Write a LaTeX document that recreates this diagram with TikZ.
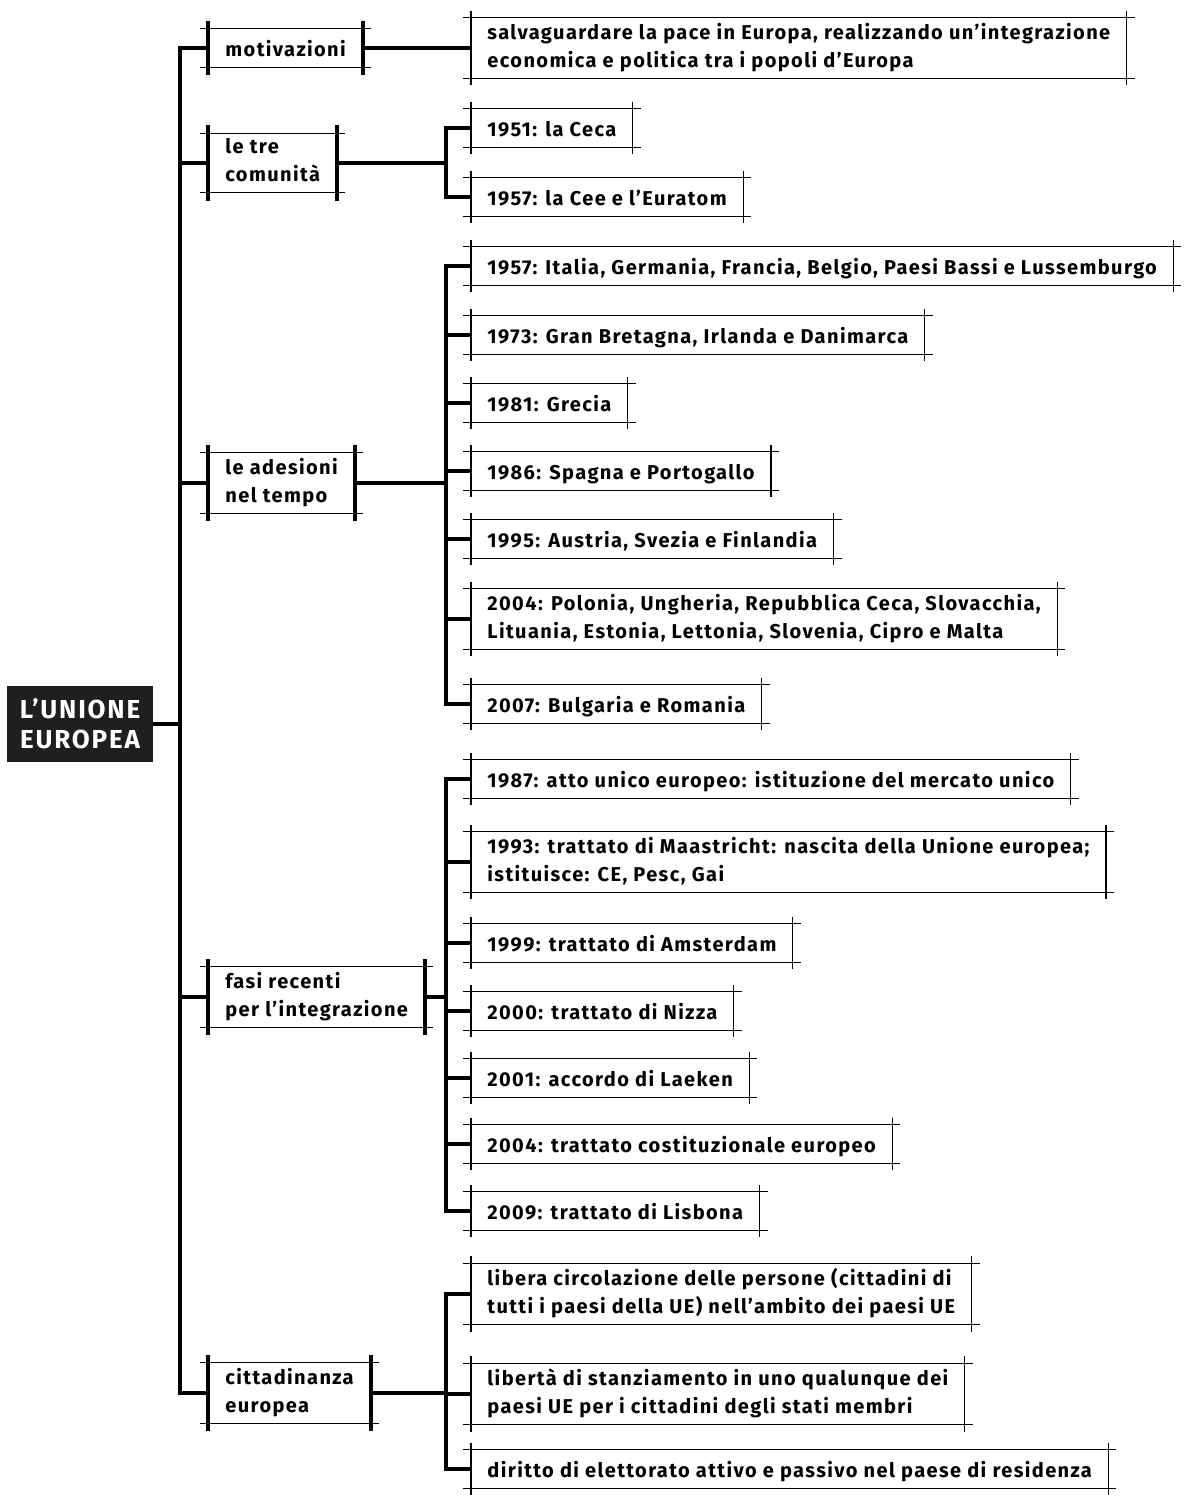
\documentclass[tikz,border=0pt]{standalone}
\usepackage{fontspec}
\setmainfont{Fira Sans}[LetterSpace=7]
\usepackage{xcolor}
\usepackage{tikz}
\newcommand{\leaffont}{\bfseries\fontsize{10}{14}\selectfont}
\newcommand{\rootfont}{\bfseries\fontsize{13}{15}\selectfont}
\newcommand{\boxstrut}{\rule[-2.8pt]{0pt}{14pt}}
\tikzstyle{thinline} = [draw, line width=0.6pt]
\tikzstyle{thickbar} = [draw, line width=2pt]
\tikzstyle{line} = [draw, line width=1.7pt]
\tikzstyle{root} = [fill=black!88, text=white, font=\rootfont, align=center, minimum width=73pt, minimum height=38pt, inner sep=0pt]
\tikzstyle{leaf} = [anchor=west, align=left, inner xsep=8pt, inner ysep=2.5pt, font=\leaffont,
  execute at begin node=\boxstrut, execute at end node=\boxstrut,
  append after command={
    ([xshift=-4pt]\tikzlastnode.north west) edge[thinline] ([xshift=4pt]\tikzlastnode.north east)
    ([xshift=-4pt]\tikzlastnode.south west) edge[thinline] ([xshift=4pt]\tikzlastnode.south east)
    ([yshift=3.5pt]\tikzlastnode.north west) edge[thinline] ([yshift=-3.5pt]\tikzlastnode.south west)
    ([yshift=3.5pt]\tikzlastnode.north east) edge[thinline] ([yshift=-3.5pt]\tikzlastnode.south east)}]
\tikzstyle{topic} = [anchor=west, align=left, inner xsep=8.5pt, inner ysep=2.5pt, font=\leaffont,
  execute at begin node=\boxstrut, execute at end node=\boxstrut,
  append after command={
    ([xshift=-4pt]\tikzlastnode.north west) edge[thinline] ([xshift=4pt]\tikzlastnode.north east)
    ([xshift=-4pt]\tikzlastnode.south west) edge[thinline] ([xshift=4pt]\tikzlastnode.south east)
    ([yshift=4pt]\tikzlastnode.north west) edge[thickbar] ([yshift=-4pt]\tikzlastnode.south west)
    ([yshift=4pt]\tikzlastnode.north east) edge[thickbar] ([yshift=-4pt]\tikzlastnode.south east)}]

\begin{document}
\begin{tikzpicture}[x=0.5pt,y=-0.5pt]
\useasboundingbox (0,0) rectangle (1192,1497);
\node [root] (ue) at (80,724) {L’UNIONE\\EUROPEA};
% temi
\node [topic] (motiv) at (208,48) {motivazioni};
\node [topic] (tre) at (208,163) {le tre\\comunità};
\node [topic] (ades) at (208,483) {le adesioni\\nel tempo};
\node [topic] (fasi) at (208,997) {fasi recenti\\per l’integrazione};
\node [topic] (citt) at (208,1393) {cittadinanza\\europea};
% foglie
\node [leaf] (pace) at (471,48) {salvaguardare la pace in Europa, realizzando un’integrazione\\economica e politica tra i popoli d’Europa};
\node [leaf] (ceca) at (471,128) {1951: la Ceca};
\node [leaf] (cee) at (471,197) {1957: la Cee e l’Euratom};
\node [leaf] (a57) at (471,266) {1957: Italia, Germania, Francia, Belgio, Paesi Bassi e Lussemburgo};
\node [leaf] (a73) at (471,335) {1973: Gran Bretagna, Irlanda e Danimarca};
\node [leaf] (a81) at (471,403) {1981: Grecia};
\node [leaf] (a86) at (471,471) {1986: Spagna e Portogallo};
\node [leaf] (a95) at (471,539) {1995: Austria, Svezia e Finlandia};
\node [leaf] (a04) at (471,619) {2004: Polonia, Ungheria, Repubblica Ceca, Slovacchia,\\Lituania, Estonia, Lettonia, Slovenia, Cipro e Malta};
\node [leaf] (a07) at (471,704) {2007: Bulgaria e Romania};
\node [leaf] (f87) at (471,779) {1987: atto unico europeo: istituzione del mercato unico};
\node [leaf] (f93) at (471,862) {1993: trattato di Maastricht: nascita della Unione europea;\\istituisce: CE, Pesc, Gai};
\node [leaf] (f99) at (471,943) {1999: trattato di Amsterdam};
\node [leaf] (f00) at (471,1011) {2000: trattato di Nizza};
\node [leaf] (f01) at (471,1078) {2001: accordo di Laeken};
\node [leaf] (f04) at (471,1144) {2004: trattato costituzionale europeo};
\node [leaf] (f09) at (471,1211) {2009: trattato di Lisbona};
\node [leaf] (c1) at (471,1294) {libera circolazione delle persone (cittadini di\\tutti i paesi della UE) nell’ambito dei paesi UE};
\node [leaf] (c2) at (471,1394) {libertà di stanziamento in uno qualunque dei\\paesi UE per i cittadini degli stati membri};
\node [leaf] (c3) at (471,1469) {diritto di elettorato attivo e passivo nel paese di residenza};
% tronco
\coordinate (trunk) at (180,724);
\path [line] (ue) -- (trunk);
\path [line] (trunk) |- (motiv.west);
\path [line] (trunk) |- (tre.west);
\path [line] (trunk) |- (ades.west);
\path [line] (trunk) |- (fasi.west);
\path [line] (trunk) |- (citt.west);
% rami
\path [line] (motiv) -- (pace);
\coordinate (b1) at (446,163);
\path [line] (tre) -- (b1);
\path [line] (b1) |- (ceca.west);
\path [line] (b1) |- (cee.west);
\coordinate (b2) at (446,483);
\path [line] (ades) -- (b2);
\path [line] (b2) |- (a57.west);
\path [line] (b2) |- (a73.west);
\path [line] (b2) |- (a81.west);
\path [line] (b2) |- (a86.west);
\path [line] (b2) |- (a95.west);
\path [line] (b2) |- (a04.west);
\path [line] (b2) |- (a07.west);
\coordinate (b3) at (446,997);
\path [line] (fasi) -- (b3);
\path [line] (b3) |- (f87.west);
\path [line] (b3) |- (f93.west);
\path [line] (b3) |- (f99.west);
\path [line] (b3) |- (f00.west);
\path [line] (b3) |- (f01.west);
\path [line] (b3) |- (f04.west);
\path [line] (b3) |- (f09.west);
\coordinate (b4) at (446,1393);
\path [line] (citt) -- (b4);
\path [line] (b4) |- (c1.west);
\path [line] (b4) |- (c2.west);
\path [line] (b4) |- (c3.west);
\end{tikzpicture}
\end{document}
